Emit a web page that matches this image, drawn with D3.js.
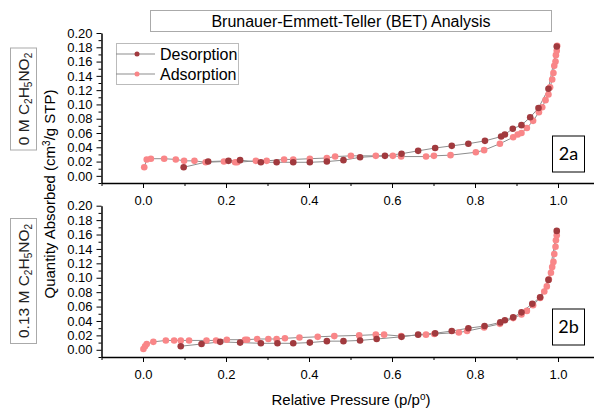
<!DOCTYPE html>
<html>
<head>
<meta charset="utf-8">
<script src="https://cdn.jsdelivr.net/npm/d3@7"></script>
<style>
  body { margin: 0; background: #fff; }
  svg { display: block; font-family: "Liberation Sans", Arial, sans-serif; }
  .axis path, .axis line { stroke: #000; }
  .axis text { font-size: 13px; fill: #000; }
</style>
</head>
<body>
<svg id="chart" width="594" height="409"></svg>
<script>
// 0 M sample (top panel, 2a)
var desA_x = [0.098, 0.157, 0.206, 0.234, 0.284, 0.322, 0.362, 0.402, 0.443, 0.483, 0.523, 0.583, 0.623, 0.663, 0.704, 0.744, 0.784, 0.824, 0.863, 0.872, 0.891, 0.912, 0.933, 0.953, 0.977, 0.997];
var desA_y = [0.012, 0.020, 0.021, 0.022, 0.019, 0.019, 0.019, 0.019, 0.020, 0.022, 0.026, 0.028, 0.031, 0.035, 0.039, 0.042, 0.045, 0.049, 0.055, 0.058, 0.066, 0.071, 0.082, 0.095, 0.122, 0.181];
var adsA_x = [0.003, 0.009, 0.019, 0.051, 0.079, 0.099, 0.124, 0.151, 0.195, 0.222, 0.227, 0.272, 0.298, 0.340, 0.362, 0.402, 0.443, 0.463, 0.501, 0.561, 0.602, 0.622, 0.682, 0.701, 0.741, 0.802, 0.822, 0.860, 0.892, 0.903, 0.912, 0.925, 0.940, 0.954, 0.962, 0.970, 0.977, 0.981, 0.986, 0.989, 0.991, 0.994, 0.995, 0.997, 0.998];
var adsA_y = [0.012, 0.023, 0.024, 0.024, 0.023, 0.021, 0.021, 0.019, 0.020, 0.019, 0.019, 0.021, 0.021, 0.023, 0.023, 0.024, 0.025, 0.027, 0.028, 0.028, 0.028, 0.027, 0.027, 0.028, 0.029, 0.033, 0.036, 0.045, 0.054, 0.058, 0.060, 0.067, 0.077, 0.089, 0.096, 0.106, 0.114, 0.124, 0.135, 0.144, 0.154, 0.160, 0.169, 0.175, 0.182];

// 0.13 M sample (bottom panel, 2b)
var desB_x = [0.091, 0.141, 0.186, 0.234, 0.284, 0.324, 0.362, 0.402, 0.443, 0.483, 0.523, 0.563, 0.623, 0.663, 0.704, 0.744, 0.784, 0.823, 0.861, 0.872, 0.892, 0.912, 0.938, 0.957, 0.977, 0.997];
var desB_y = [0.005, 0.008, 0.011, 0.010, 0.009, 0.009, 0.009, 0.010, 0.012, 0.012, 0.013, 0.015, 0.018, 0.021, 0.023, 0.026, 0.030, 0.033, 0.038, 0.041, 0.045, 0.052, 0.064, 0.073, 0.097, 0.165];
var adsB_x = [0.001, 0.005, 0.009, 0.025, 0.055, 0.075, 0.091, 0.111, 0.153, 0.176, 0.202, 0.246, 0.251, 0.275, 0.302, 0.322, 0.342, 0.377, 0.421, 0.461, 0.521, 0.561, 0.581, 0.622, 0.682, 0.702, 0.761, 0.781, 0.822, 0.860, 0.892, 0.912, 0.925, 0.940, 0.957, 0.967, 0.973, 0.978, 0.983, 0.986, 0.989, 0.991, 0.994, 0.995, 0.997];
var adsB_y = [0.001, 0.005, 0.008, 0.011, 0.013, 0.013, 0.013, 0.013, 0.013, 0.013, 0.014, 0.014, 0.014, 0.015, 0.015, 0.015, 0.016, 0.017, 0.018, 0.019, 0.020, 0.021, 0.021, 0.019, 0.021, 0.022, 0.024, 0.026, 0.031, 0.036, 0.044, 0.049, 0.054, 0.062, 0.072, 0.081, 0.088, 0.098, 0.107, 0.115, 0.122, 0.133, 0.143, 0.152, 0.159];

var xMajor = [0.0, 0.2, 0.4, 0.6, 0.8, 1.0];
var xMinor = [-0.1, 0.1, 0.3, 0.5, 0.7, 0.9, 1.1];
var yMajor = [0.00, 0.02, 0.04, 0.06, 0.08, 0.10, 0.12, 0.14, 0.16, 0.18, 0.20];
var yMinor = [-0.01, 0.01, 0.03, 0.05, 0.07, 0.09, 0.11, 0.13, 0.15, 0.17, 0.19];

var seriesNames = ["Desorption", "Adsorption"];
var colors = { Desorption: "#a13a3e", Adsorption: "#f98688" };
var lineColor = "#8d8d8d";

var svg = d3.select("#chart");

var x = d3.scaleLinear().domain([-0.1, 1.1]).range([101.5, 599.5]);

function pairs(xs, ys) {
    return xs.map(function (d, i) { return { x: d, y: ys[i] }; });
}

var panels = [
    { top: 33, bottom: 183, label: "2a", des: pairs(desA_x, desA_y), ads: pairs(adsA_x, adsA_y), sample: ["0 M C", "2", "H", "5", "NO", "2"] },
    { top: 205.7, bottom: 357, label: "2b", des: pairs(desB_x, desB_y), ads: pairs(adsB_x, adsB_y), sample: ["0.13 M C", "2", "H", "5", "NO", "2"] }
];

panels.forEach(function (p, pi) {
    var y = d3.scaleLinear().domain([-0.01, 0.20]).range([p.bottom, p.top]);
    var g = svg.append("g");

    // x axis
    g.append("g").attr("class", "axis")
        .attr("transform", "translate(0," + p.bottom + ")")
        .call(d3.axisBottom(x).tickValues(xMajor).tickSize(5).tickSizeOuter(0).tickPadding(8).tickFormat(d3.format(".1f")))
        .call(function (a) { a.select(".domain").attr("stroke-width", 1.5); });
    g.append("g").attr("class", "axis")
        .attr("transform", "translate(0," + p.bottom + ")")
        .call(d3.axisBottom(x).tickValues(xMinor).tickSize(3).tickSizeOuter(0).tickFormat(""))
        .call(function (a) { a.select(".domain").remove(); });

    // y axis
    g.append("g").attr("class", "axis")
        .attr("transform", "translate(101.5,0)")
        .call(d3.axisLeft(y).tickValues(yMajor).tickSize(5).tickSizeOuter(0).tickPadding(4).tickFormat(d3.format(".2f")))
        .call(function (a) { a.select(".domain").attr("stroke-width", 1.5); });
    g.append("g").attr("class", "axis")
        .attr("transform", "translate(101.5,0)")
        .call(d3.axisLeft(y).tickValues(yMinor).tickSize(3).tickSizeOuter(0).tickFormat(""))
        .call(function (a) { a.select(".domain").remove(); });

    var line = d3.line().x(function (d) { return x(d.x); }).y(function (d) { return y(d.y); });

    [["Adsorption", p.ads], ["Desorption", p.des]].forEach(function (s) {
        g.append("path").datum(s[1])
            .attr("d", line).attr("fill", "none")
            .attr("stroke", lineColor).attr("stroke-width", 1);
    });
    [["Adsorption", p.ads], ["Desorption", p.des]].forEach(function (s) {
        g.selectAll(null).data(s[1]).enter().append("circle")
            .attr("cx", function (d) { return x(d.x); })
            .attr("cy", function (d) { return y(d.y); })
            .attr("r", 3.3)
            .attr("fill", colors[s[0]]);
    });

    // panel tag box
    var by = pi === 0 ? 136 : 309;
    g.append("rect").attr("x", 552.5).attr("y", by).attr("width", 32).attr("height", 36)
        .attr("fill", "#fff").attr("stroke", "#000").attr("stroke-width", 1);
    g.append("text").attr("x", 568.5).attr("y", by + 24)
        .attr("text-anchor", "middle").style("font-family", "Lato, 'Open Sans', sans-serif")
        .style("font-size", "18px").text(p.label);

    // sample label (rotated, boxed)
    var cy = pi === 0 ? 99 : 281;
    var bh = pi === 0 ? 102 : 125;
    g.append("rect").attr("x", 10.5).attr("y", cy - bh / 2).attr("width", 26).attr("height", bh)
        .attr("fill", "#fff").attr("stroke", "#aaa").attr("stroke-width", 1);
    var t = g.append("text").attr("transform", "translate(29," + cy + ") rotate(-90)")
        .attr("text-anchor", "middle").style("font-size", "15.5px").attr("fill", "#222");
    p.sample.forEach(function (part, i) {
        var ts = t.append("tspan").text(part);
        if (i % 2 === 1) ts.attr("baseline-shift", "-25%").style("font-size", "10px");
    });
});

// title box
svg.append("rect").attr("x", 150.5).attr("y", 10.5).attr("width", 401).attr("height", 21)
    .attr("fill", "#fff").attr("stroke", "#aaa");
svg.append("text").attr("x", 351).attr("y", 27).attr("text-anchor", "middle")
    .style("font-size", "16px").text("Brunauer-Emmett-Teller (BET) Analysis");

// y title
var yt = svg.append("text").attr("transform", "translate(55,194) rotate(-90)")
    .attr("text-anchor", "middle").style("font-size", "15px");
yt.append("tspan").text("Quantity Absorbed (cm");
yt.append("tspan").attr("baseline-shift", "super").style("font-size", "10px").text("3");
yt.append("tspan").text("/g STP)");

// x title
var xt = svg.append("text").attr("x", 351).attr("y", 405).attr("text-anchor", "middle")
    .style("font-size", "15px");
xt.append("tspan").text("Relative Pressure (p/p");
xt.append("tspan").attr("baseline-shift", "super").style("font-size", "10px").text("o");
xt.append("tspan").text(")");

// legend
var lg = svg.append("g");
lg.append("rect").attr("x", 116.5).attr("y", 43.5).attr("width", 122).attr("height", 41)
    .attr("fill", "#fff").attr("stroke", "#bbb");
seriesNames.forEach(function (name, i) {
    var ly = 54 + i * 20;
    lg.append("line").attr("x1", 116).attr("x2", 155).attr("y1", ly).attr("y2", ly)
        .attr("stroke", lineColor).attr("stroke-width", 1);
    lg.append("circle").attr("cx", 137).attr("cy", ly).attr("r", 2.5).attr("fill", colors[name]);
    lg.append("text").attr("x", 160).attr("y", ly + 5.5).style("font-size", "16px").text(name);
});
</script>
</body>
</html>
